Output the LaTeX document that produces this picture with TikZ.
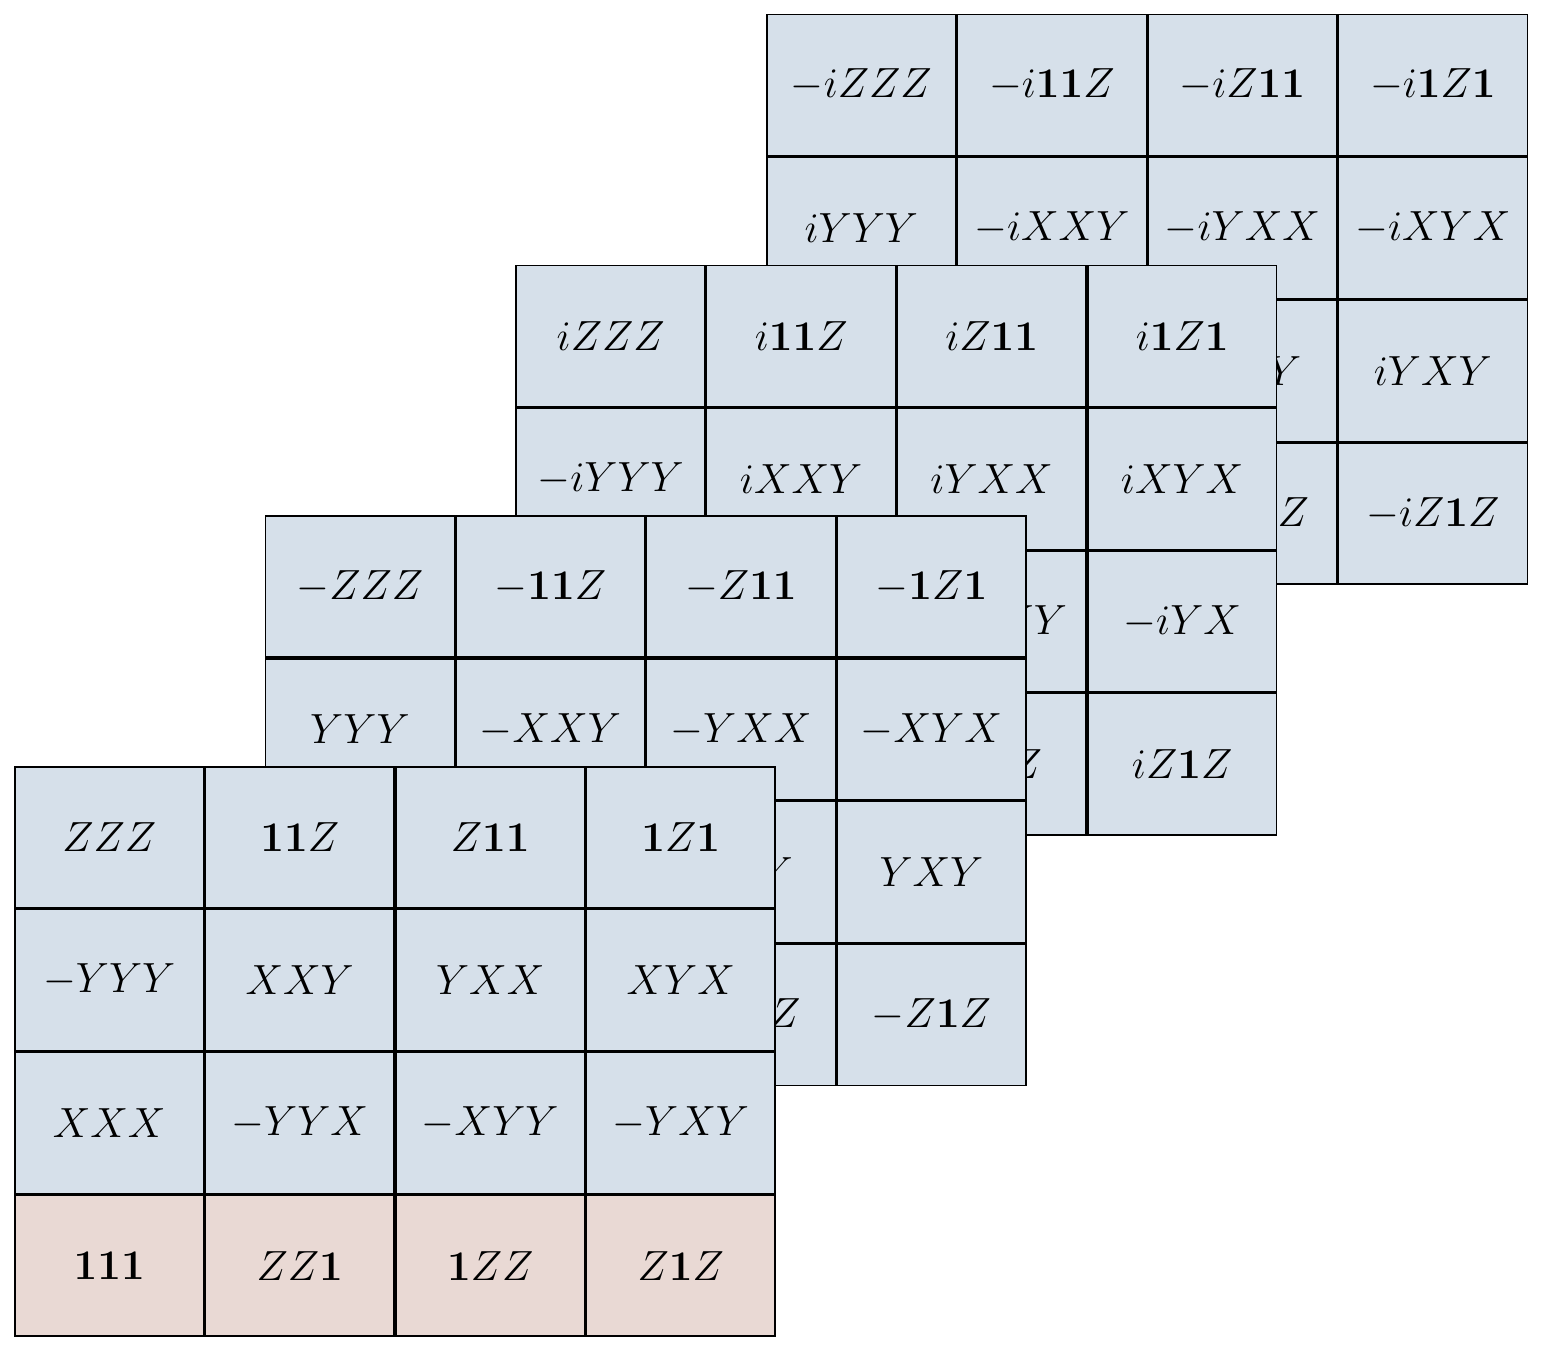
\documentclass[tikz,border=0pt]{standalone}
\usepackage{amsmath}
\definecolor{cellblue}{RGB}{214,224,234}
\definecolor{cellpink}{RGB}{233,217,212}
\newcommand{\one}{\mathbf{1}}
\tikzset{
  cell/.style={draw, line width=0.45pt, fill=cellblue, inner sep=0pt, outer sep=0pt,
    minimum width={1.905cm-0.45pt}, minimum height={1.4275cm-0.45pt}, font=\large},
  idcell/.style={cell, fill=cellpink}
}
\begin{document}
\begin{tikzpicture}[x=1cm,y=1cm]
        \useasboundingbox (0,0) rectangle (15.42,13.53);
        % layer -i (back)
        \begin{scope}[shift={(7.661,7.681)}]
        \foreach \lab [count=\c from 0] in {-iZZZ,-i\one\one Z,-iZ\one\one,-i\one Z\one,
                iYYY,-iXXY,-iYXX,-iXYX,
                -iXXX,iYYX,iXYY,iYXY,
                -i\one\one\one,-iZZ\one,-i\one ZZ,-iZ\one Z}{
          \pgfmathtruncatemacro{\r}{int(\c/4)}
          \pgfmathtruncatemacro{\k}{mod(\c,4)}
          \node[cell] (d\c) at ({(\k+0.5)*1.905},{(3.5-\r)*1.4275}) {$\lab$};
        }
        \end{scope}
        % layer i
        \begin{scope}[shift={(5.154,5.174)}]
        \foreach \lab [count=\c from 0] in {iZZZ,i\one\one Z,iZ\one\one,i\one Z\one,
                -iYYY,iXXY,iYXX,iXYX,
                iXXX,-iYYX,-iXYY,-iYX,
                i\one\one\one,iZZ\one,i\one ZZ,iZ\one Z}{
          \pgfmathtruncatemacro{\r}{int(\c/4)}
          \pgfmathtruncatemacro{\k}{mod(\c,4)}
          \node[cell] (c\c) at ({(\k+0.5)*1.905},{(3.5-\r)*1.4275}) {$\lab$};
        }
        \end{scope}
        % layer -1
        \begin{scope}[shift={(2.647,2.667)}]
        \foreach \lab [count=\c from 0] in {-ZZZ,-\one\one Z,-Z\one\one,-\one Z\one,
                YYY,-XXY,-YXX,-XYX,
                -XXX,YYX,XYY,YXY,
                -\one\one\one,-ZZ\one,-\one ZZ,-Z\one Z}{
          \pgfmathtruncatemacro{\r}{int(\c/4)}
          \pgfmathtruncatemacro{\k}{mod(\c,4)}
          \node[cell] (b\c) at ({(\k+0.5)*1.905},{(3.5-\r)*1.4275}) {$\lab$};
        }
        \end{scope}
        % layer 1 (front)
        \begin{scope}[shift={(0.14,0.16)}]
        \foreach \lab [count=\c from 0] in {ZZZ,\one\one Z,Z\one\one,\one Z\one,
                -YYY,XXY,YXX,XYX,
                XXX,-YYX,-XYY,-YXY}{
          \pgfmathtruncatemacro{\r}{int(\c/4)}
          \pgfmathtruncatemacro{\k}{mod(\c,4)}
          \node[cell] (a\c) at ({(\k+0.5)*1.905},{(3.5-\r)*1.4275}) {$\lab$};
        }
        \foreach \lab [count=\k from 0] in {\one\one\one,ZZ\one,\one ZZ,Z\one Z}{
          \node[idcell] (e\k) at ({(\k+0.5)*1.905},{0.5*1.4275}) {$\lab$};
        }
        \end{scope}
\end{tikzpicture}
\end{document}
